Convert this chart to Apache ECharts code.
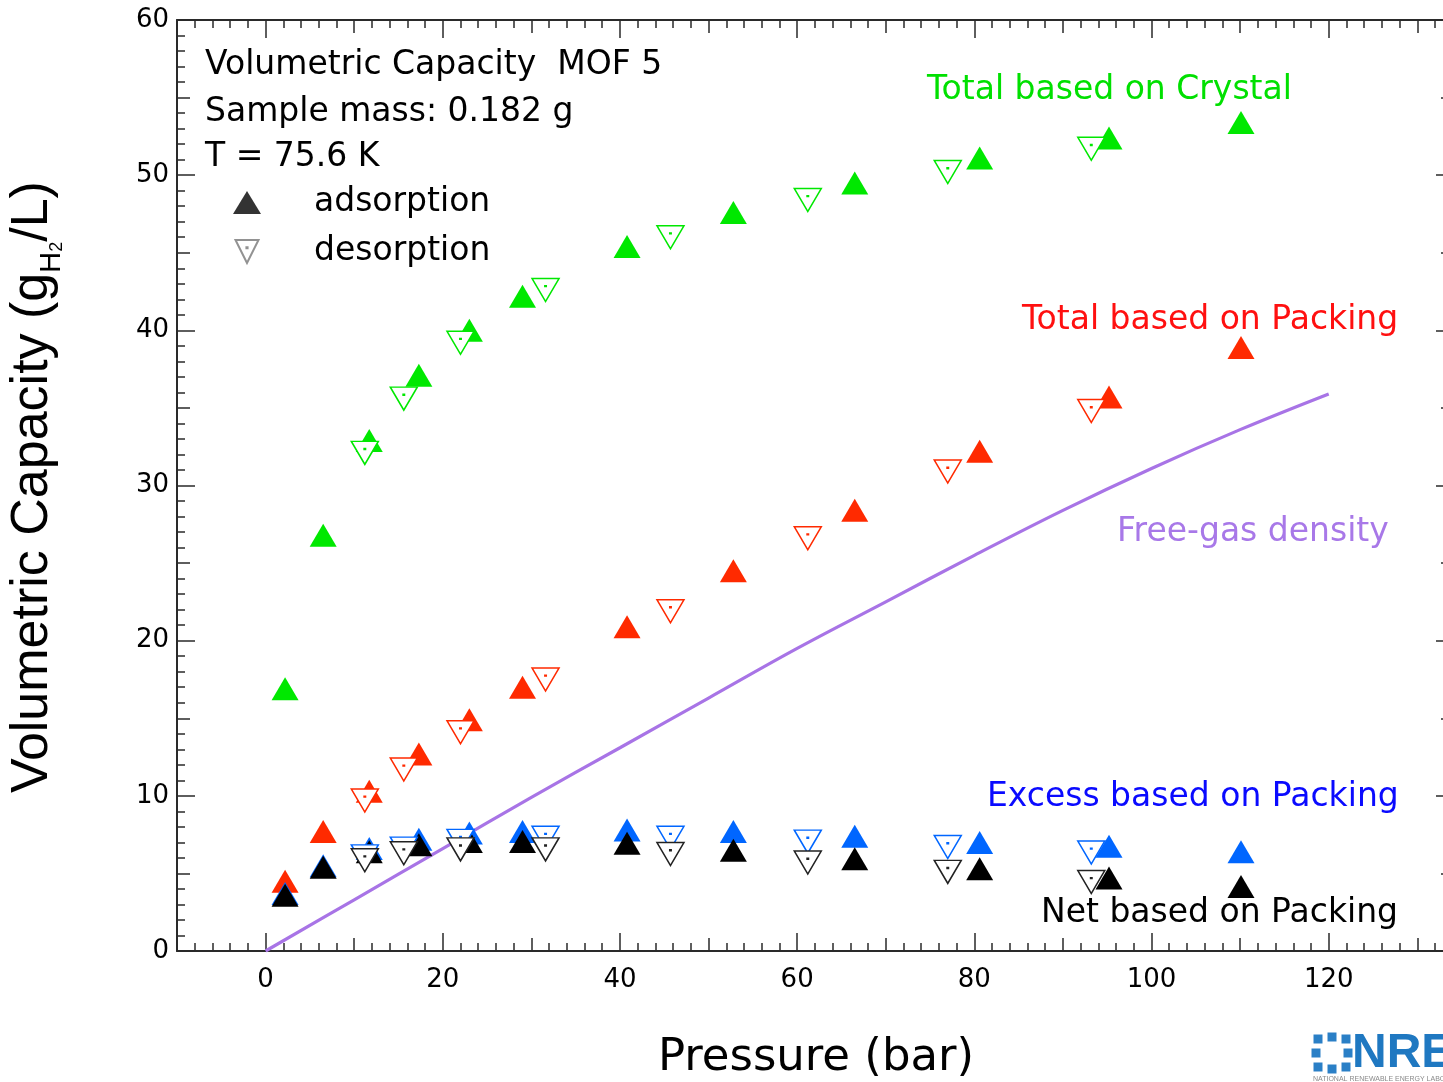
<!DOCTYPE html>
<html>
<head>
<meta charset="utf-8">
<script src="https://cdn.jsdelivr.net/npm/echarts@6/dist/echarts.min.js"></script>
<style>
html,body{margin:0;padding:0;background:#fff;}
#chart{width:1443px;height:1082px;}
</style>
</head>
<body>
<div id="chart"></div>
<script>
// ---------------- data ----------------
const pAds = [2.2, 6.5, 11.7, 17.3, 23.0, 29.0, 40.8, 52.8, 66.5, 80.6, 95.2, 110.1];
const crystalAds = [16.9, 26.8, 32.9, 37.1, 40.0, 42.2, 45.4, 47.6, 49.5, 51.1, 52.4, 53.4];
const packingAds = [4.5, 7.7, 10.3, 12.7, 14.9, 17.0, 20.9, 24.5, 28.4, 32.2, 35.7, 38.9];
const excessAds = [3.7, 5.5, 6.6, 7.2, 7.6, 7.7, 7.8, 7.7, 7.4, 7.0, 6.75, 6.4];
const netAds = [3.6, 5.4, 6.4, 6.85, 7.05, 7.05, 6.95, 6.5, 5.95, 5.3, 4.7, 4.15];

const pDes = [11.2, 15.6, 22.0, 31.6, 45.7, 61.2, 77.0, 93.2];
const crystalDes = [32.1, 35.6, 39.2, 42.6, 46.0, 48.4, 50.2, 51.7];
const packingDes = [9.7, 11.7, 14.1, 17.5, 21.9, 26.6, 30.9, 34.8];
const excessDes = [6.1, 6.6, 7.1, 7.3, 7.3, 7.05, 6.7, 6.35];
const netDes = [5.85, 6.3, 6.55, 6.55, 6.25, 5.7, 5.1, 4.45];

const pGas = [0, 10, 20, 30, 40, 50, 60, 70, 80, 90, 100, 110, 120];
const freeGas = [0, 3.3, 6.6, 9.9, 13.1, 16.3, 19.5, 22.5, 25.5, 28.4, 31.1, 33.6, 35.9];

const xMajorTicks = [0, 20, 40, 60, 80, 100, 120];
const xMidTicks = [-10, 10, 30, 50, 70, 90, 110, 130];
const xMinorTicks = []; for (let v = -10; v <= 132; v += 2) xMinorTicks.push(v);
const yMajorTicks = [0, 10, 20, 30, 40, 50, 60];
const yMidTicks = [5, 15, 25, 35, 45, 55];
const yMinorTicks = []; for (let v = 0; v <= 60; v += 1) yMinorTicks.push(v);

// ---------------- styles ----------------
const AX = '#2a2a2a';
const GREEN = '#00e800', RED = '#ff2a00', BLUE = '#0066ff', BLACK = '#000000', PURPLE = '#a874e6';
const FONT = '"DejaVu Sans", "Lucida Grande", sans-serif';
const UP = 'triangle';
const DOWN = 'path://M-1,-1L1,-1L0,1Z M-0.05,-0.38L0.05,-0.38L0.05,-0.29L-0.05,-0.29Z';
const SIZE = [27, 23];
const XMIN = -10, XMAX = 132.9;

function zip(xs, ys) { return xs.map((x, i) => [x, ys[i]]); }

function xAx(pos, vals, len, labels, line) {
  return {
    type: 'value', gridIndex: 0, position: pos, min: XMIN, max: XMAX,
    axisLine: { show: line, onZero: false, lineStyle: { color: AX, width: 2 } },
    axisTick: { show: true, inside: true, length: len, customValues: vals, lineStyle: { color: AX, width: 1.5 } },
    axisLabel: { show: labels, customValues: vals, margin: 16, color: '#000', fontSize: 26, fontFamily: FONT },
    splitLine: { show: false }
  };
}
function yAx(pos, vals, len, labels, line, offset) {
  return {
    type: 'value', gridIndex: 0, position: pos, min: 0, max: 60, offset: offset || 0,
    axisLine: { show: line, onZero: false, lineStyle: { color: AX, width: 2 } },
    axisTick: { show: true, inside: true, length: len, customValues: vals, lineStyle: { color: AX, width: 1.5 } },
    axisLabel: { show: labels, customValues: vals, margin: 8, color: '#000', fontSize: 26, fontFamily: FONT },
    splitLine: { show: false }
  };
}

function adsSeries(name, ys, color, z) {
  return { type: 'scatter', name: name, data: zip(pAds, ys), symbol: UP, symbolSize: SIZE, z: z,
    itemStyle: { color: color, opacity: 1 }, emphasis: { disabled: true }, silent: true };
}
function desSeries(name, ys, color, z) {
  return { type: 'scatter', name: name, data: zip(pDes, ys), symbol: DOWN, symbolSize: SIZE, z: z,
    itemStyle: { color: '#ffffff', borderColor: color, borderWidth: 1.5, opacity: 1 }, emphasis: { disabled: true }, silent: true };
}

function txt(x, y, s, color) {
  return { type: 'text', x: x, y: y, z: 50,
    style: { text: s, font: '33px ' + FONT, fill: color, align: 'left', verticalAlign: 'middle', textAlign: 'left', textVerticalAlign: 'middle' } };
}

// NREL logo pieces
const logo = [];
const cx = 1332, cy = 1053;
[[-14,-14],[0,-16],[14,-14],[16,0],[14,14],[0,16],[-14,14],[-16,0]].forEach(p => {
  logo.push({ type: 'rect', x: cx + p[0] - 4.5, y: cy + p[1] - 4.5, shape: { width: 9, height: 9 }, style: { fill: '#2a7fc6' }, z: 50 });
});
logo.push({ type: 'text', x: 1352, y: 1054, z: 50, style: { text: 'NREL', font: 'bold 48px "Liberation Sans", Arial, sans-serif', fill: '#1f78c1', verticalAlign: 'middle', textVerticalAlign: 'middle' } });
logo.push({ type: 'text', x: 1313, y: 1079, z: 50, style: { text: 'NATIONAL RENEWABLE ENERGY LABORATORY', font: '7px "Liberation Sans", Arial, sans-serif', fill: '#8a8a8a', verticalAlign: 'middle', textVerticalAlign: 'middle' } });

const option = {
  animation: false,
  backgroundColor: '#ffffff',
  grid: { left: 177, top: 20, right: 0, height: 931, containLabel: false, show: false },
  xAxis: [
    xAx('bottom', xMajorTicks, 18, true, true),
    xAx('bottom', xMidTicks, 13, false, false),
    xAx('bottom', xMinorTicks, 8, false, false),
    xAx('top', xMajorTicks, 18, false, true),
    xAx('top', xMidTicks, 13, false, false),
    xAx('top', xMinorTicks, 8, false, false)
  ],
  yAxis: [
    yAx('left', yMajorTicks, 18, true, true),
    yAx('left', yMidTicks, 13, false, false),
    yAx('left', yMinorTicks, 8, false, false),
    yAx('right', yMajorTicks, 18, false, true, 11),
    yAx('right', yMidTicks, 13, false, false, 11),
    yAx('right', yMinorTicks, 8, false, false, 11)
  ],
  legend: {
    data: [
      { name: 'adsorption', icon: 'triangle' },
      { name: 'desorption', icon: DOWN }
    ],
    orient: 'vertical', left: 228, top: 181, itemWidth: 28, itemHeight: 23, itemGap: 16,
    selectedMode: false,
    textStyle: { fontSize: 33, fontFamily: FONT, color: '#000', padding: [0, 0, 0, 48], lineHeight: 26 }
  },
  graphic: [
    txt(205, 65, 'Volumetric Capacity  MOF 5', '#000'),
    txt(205, 112, 'Sample mass: 0.182 g', '#000'),
    txt(205, 157, 'T = 75.6 K', '#000'),
    txt(927, 90, 'Total based on Crystal', '#00e000'),
    txt(1022, 320, 'Total based on Packing', '#ff1010'),
    txt(1117, 532, 'Free-gas density', '#a878e8'),
    txt(987, 797, 'Excess based on Packing', '#0a0aff'),
    txt(1041, 913, 'Net based on Packing', '#000'),
    { type: 'text', x: 816, y: 1058, z: 50,
      style: { text: 'Pressure (bar)', font: '45px ' + FONT, fill: '#000', align: 'center', verticalAlign: 'middle', textAlign: 'center', textVerticalAlign: 'middle' } },
    { type: 'text', x: 33, y: 487, rotation: Math.PI / 2, z: 50,
      style: {
        text: '{m|Volumetric Capacity (g}{s|H}{ss|2}{m|/L)}',
        fill: '#000', align: 'center', verticalAlign: 'middle', textAlign: 'center', textVerticalAlign: 'middle',
        rich: {
          m: { fontSize: 52, fontFamily: '"Liberation Sans", Arial, sans-serif', lineHeight: 66, fill: '#000' },
          s: { fontSize: 29, fontFamily: '"Liberation Sans", Arial, sans-serif', lineHeight: 29, verticalAlign: 'bottom', fill: '#000' },
          ss: { fontSize: 18, fontFamily: '"Liberation Sans", Arial, sans-serif', lineHeight: 11, verticalAlign: 'bottom', fill: '#000' }
        }
      } }
  ].concat(logo),
  series: [
    { type: 'line', name: 'Free-gas density', data: zip(pGas, freeGas), showSymbol: false, symbol: 'none', z: 1, smooth: 0.4,
      lineStyle: { color: PURPLE, width: 3.2 }, silent: true },
    adsSeries('Total based on Crystal (ads)', crystalAds, GREEN, 2),
    adsSeries('Total based on Packing (ads)', packingAds, RED, 2),
    adsSeries('Excess based on Packing (ads)', excessAds, BLUE, 2),
    adsSeries('Net based on Packing (ads)', netAds, BLACK, 3),
    desSeries('Total based on Crystal (des)', crystalDes, GREEN, 4),
    desSeries('Total based on Packing (des)', packingDes, RED, 4),
    desSeries('Excess based on Packing (des)', excessDes, BLUE, 4),
    desSeries('Net based on Packing (des)', netDes, '#222222', 5),
    { type: 'scatter', name: 'adsorption', data: [], symbol: UP, itemStyle: { color: '#000' } },
    { type: 'scatter', name: 'desorption', data: [], symbol: DOWN, itemStyle: { color: '#fff', borderColor: '#777', borderWidth: 1.2 } }
  ]
};

const chart = echarts.init(document.getElementById('chart'), null, { renderer: 'canvas' });
chart.setOption(option);
</script>
</body>
</html>
